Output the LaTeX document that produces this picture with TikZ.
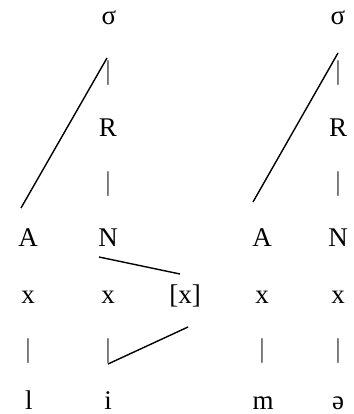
\documentclass[tikz,border=0pt]{standalone}
\usepackage{fontspec}
\setmainfont{Liberation Serif}
\usepackage{tikz}
\usetikzlibrary{calc}

\begin{document}
\begin{tikzpicture}[x=1pt, y=-1pt,
    every node/.style={font=\fontsize{27}{32}\selectfont, anchor=base, inner sep=0pt},
    bar/.style={text=black!75},
    link/.style={line width=1.4pt}]
  \useasboundingbox (0,0) rectangle (353,414);
  % first syllable
  \node (s1) at (109,25) {σ};
  \node[bar] (b1) at (108,80) {|};
  \node (r1) at (108,137) {R};
  \node[bar] (b2) at (108,190) {|};
  \node (a1) at (28,246) {A};
  \node (n1) at (108,246) {N};
  \node (xa1) at (28,303) {x};
  \node (xn1) at (108,303) {x};
  \node (xf) at (185,303) {[x]};
  \node[bar] (b3) at (28,357) {|};
  \node[bar] (b4) at (108,357) {|};
  \node (l) at (29,409) {l};
  \node (i) at (108,409) {i};
  % second syllable
  \node (s2) at (338,25) {σ};
  \node[bar] (b5) at (338,80) {|};
  \node (r2) at (338,137) {R};
  \node[bar] (b6) at (338,190) {|};
  \node (a2) at (262,246) {A};
  \node (n2) at (338,246) {N};
  \node (xa2) at (262,303) {x};
  \node (xn2) at (338,303) {x};
  \node[bar] (b7) at (262,357) {|};
  \node[bar] (b8) at (338,357) {|};
  \node (m) at (263,409) {m};
  \node (schwa) at (338,409) {ə};
  % association lines
  \coordinate (s1foot) at (107,58);
  \coordinate (a1top) at (21,208);
  \coordinate (s2foot) at (338,53);
  \coordinate (a2top) at (253,202);
  \coordinate (n1foot) at (99,257);
  \coordinate (xftop) at (180,274);
  \coordinate (xffoot) at (188,327);
  \coordinate (ifoot) at (108,364);
  \draw[link] (s1foot) -- (a1top);
  \draw[link] (s2foot) -- (a2top);
  \draw[link] (n1foot) -- (xftop);
  \draw[link] (xffoot) -- (ifoot);
\end{tikzpicture}
\end{document}
